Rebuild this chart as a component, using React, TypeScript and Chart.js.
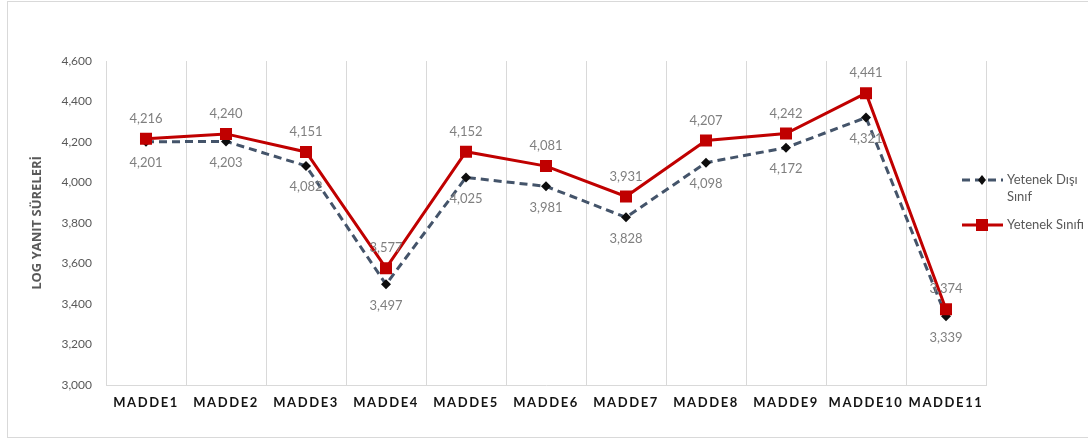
import React, { useEffect, useRef } from "react";
import { Chart, registerables } from "chart.js";

Chart.register(...registerables);

const categories = ["MADDE1", "MADDE2", "MADDE3", "MADDE4", "MADDE5", "MADDE6", "MADDE7", "MADDE8", "MADDE9", "MADDE10", "MADDE11"];
const seriesNames = ["Yetenek Dışı Sınıf", "Yetenek Sınıfı"];
const outsideValues = [4.201, 4.203, 4.082, 3.497, 4.025, 3.981, 3.828, 4.098, 4.172, 4.321, 3.339];
const insideValues = [4.216, 4.24, 4.151, 3.577, 4.152, 4.081, 3.931, 4.207, 4.242, 4.441, 3.374];
const yMin = 3.0;
const yMax = 4.6;
const yStep = 0.2;
const axisTitle = "LOG YANIT SÜRELERİ";

const FONT = "Lato, 'Open Sans', sans-serif";
const fmt = (v: number) => v.toFixed(3).replace(".", ",");

const dataLabelPlugin = {
  id: "dataLabels",
  afterDatasetsDraw(chart: any) {
    const ctx = chart.ctx;
    ctx.save();
    ctx.font = `13px ${FONT}`;
    ctx.fillStyle = "#7f7f7f";
    ctx.textAlign = "center";
    ctx.textBaseline = "middle";
    chart.data.datasets.forEach((ds: any, i: number) => {
      const meta = chart.getDatasetMeta(i);
      meta.data.forEach((pt: any, j: number) => {
        const off = ds.labelPos === "above" ? -20 : 21;
        ctx.fillText(fmt(ds.data[j]), pt.x, pt.y + off);
      });
    });
    ctx.restore();
  },
};

function drawMarker(ctx: CanvasRenderingContext2D, style: string, x: number, y: number, color: string) {
  ctx.fillStyle = color;
  ctx.beginPath();
  if (style === "rect") {
    ctx.rect(x - 6, y - 6, 12, 12);
  } else {
    ctx.moveTo(x, y - 5);
    ctx.lineTo(x + 4, y);
    ctx.lineTo(x, y + 5);
    ctx.lineTo(x - 4, y);
    ctx.closePath();
  }
  ctx.fill();
}

const legendPlugin = {
  id: "sideLegend",
  afterDraw(chart: any) {
    const ctx = chart.ctx;
    ctx.save();
    ctx.font = `13px ${FONT}`;
    ctx.textBaseline = "middle";
    ctx.textAlign = "left";
    const tops = [180, 225];
    chart.data.datasets.forEach((ds: any, i: number) => {
      const y = tops[i];
      ctx.save();
      ctx.strokeStyle = ds.borderColor;
      ctx.lineWidth = ds.borderWidth;
      ctx.setLineDash(ds.borderDash || []);
      ctx.beginPath();
      ctx.moveTo(962, y);
      ctx.lineTo(1003, y);
      ctx.stroke();
      ctx.restore();
      drawMarker(ctx, ds.pointStyle, 982, y, ds.pointBackgroundColor);
      const words = String(ds.label).split(" ");
      const lines: string[] = [];
      let cur = "";
      words.forEach((w) => {
        const test = cur ? cur + " " + w : w;
        if (ctx.measureText(test).width > 86 && cur) {
          lines.push(cur);
          cur = w;
        } else cur = test;
      });
      if (cur) lines.push(cur);
      ctx.fillStyle = "#595959";
      lines.forEach((l, k) => ctx.fillText(l, 1007, y + k * 17));
    });
    ctx.restore();
  },
};

const spacingPlugin = {
  id: "xLetterSpacing",
  beforeDraw(chart: any) {
    const sx = chart.scales.x;
    if (sx && !sx.__patched) {
      const orig = sx.drawLabels.bind(sx);
      sx.drawLabels = (area: any) => {
        const ctx = chart.ctx as any;
        ctx.save();
        ctx.letterSpacing = "1.6px";
        orig(area);
        ctx.restore();
      };
      sx.__patched = true;
    }
  },
};

export default function App() {
  const ref = useRef<HTMLCanvasElement | null>(null);
  useEffect(() => {
    if (!ref.current) return;
    const chart = new Chart(ref.current, {
      type: "line",
      data: {
        labels: categories,
        datasets: [
          {
            label: seriesNames[0],
            data: outsideValues,
            borderColor: "#44546a",
            borderWidth: 3,
            borderDash: [8, 5],
            pointStyle: "rectRot",
            pointRadius: 5,
            pointBackgroundColor: "#0d0d0d",
            pointBorderColor: "#0d0d0d",
            pointBorderWidth: 0,
            tension: 0,
            order: 2,
            labelPos: "below",
          } as any,
          {
            label: seriesNames[1],
            data: insideValues,
            borderColor: "#c00000",
            borderWidth: 3,
            pointStyle: "rect",
            pointRadius: 8.5,
            pointBackgroundColor: "#c00000",
            pointBorderColor: "#c00000",
            pointBorderWidth: 0,
            tension: 0,
            order: 1,
            labelPos: "above",
          } as any,
        ],
      },
      options: {
        responsive: false,
        animation: false,
        devicePixelRatio: 1,
        layout: { padding: { left: 0, top: 61, right: 102, bottom: 0 } },
        plugins: { legend: { display: false }, tooltip: { enabled: false } },
        scales: {
          x: {
            type: "category",
            offset: true,
            grid: { offset: true, color: "#d9d9d9", lineWidth: 1, drawTicks: false },
            border: { display: true, color: "#d9d9d9" },
            ticks: { color: "#141414", font: { family: FONT, size: 13, weight: "bold" }, padding: 10, maxRotation: 0, autoSkip: false },
            afterFit: (s: any) => { s.height = 53; },
          },
          y: {
            min: yMin,
            max: yMax,
            grid: { display: false, drawTicks: false },
            border: { display: false },
            ticks: {
              stepSize: yStep,
              color: "#595959",
              font: { family: FONT, size: 12 },
              padding: 14,
              callback: (v: any) => fmt(Number(v)),
            },
            title: {
              display: true,
              text: axisTitle,
              color: "#595959",
              font: { family: "'Open Sans', sans-serif", size: 13, weight: "bold" },
              padding: { top: 29, bottom: 0 },
            },
            afterFit: (s: any) => { s.width = 106; },
          },
        },
      },
      plugins: [spacingPlugin, dataLabelPlugin, legendPlugin],
    });
    return () => chart.destroy();
  }, []);
  return (
    <div style={{ position: "fixed", left: 0, top: 0, width: 1088, height: 438, overflow: "hidden", background: "#fff" }}>
      <div style={{ position: "absolute", left: 7, top: 1, width: 1100, height: 435, border: "1px solid #d9d9d9" }} />
      <canvas ref={ref} width={1088} height={438} style={{ position: "absolute", left: 0, top: 0 }} />
    </div>
  );
}
